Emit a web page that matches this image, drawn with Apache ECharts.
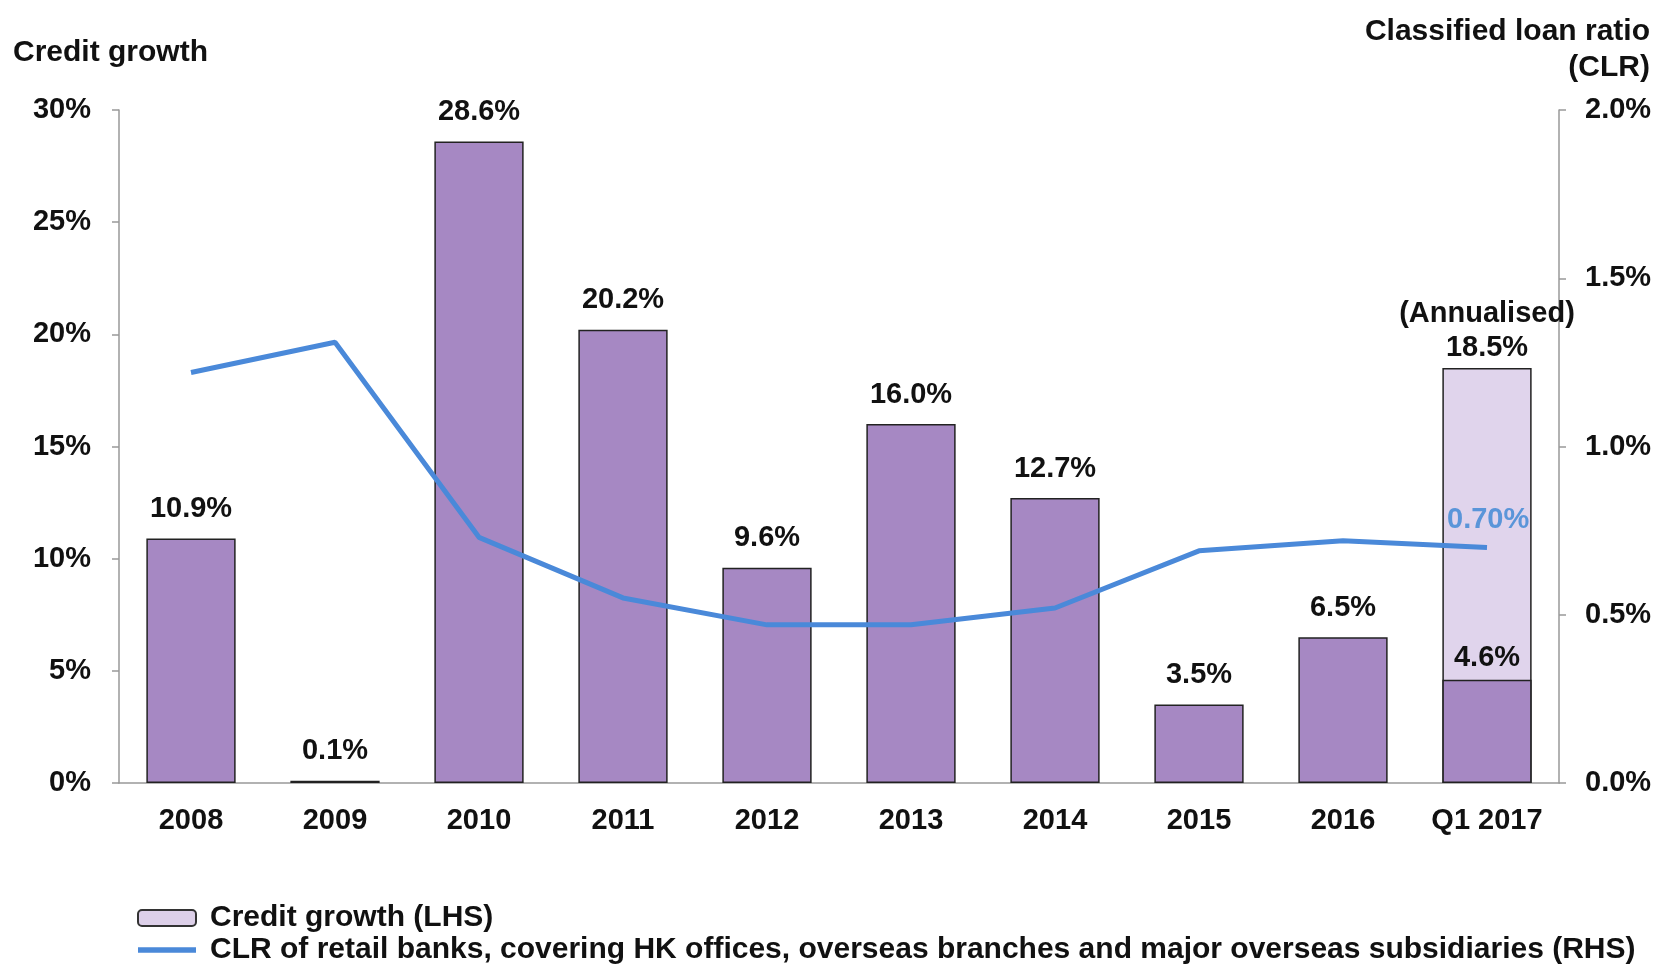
<!DOCTYPE html>
<html>
<head>
<meta charset="utf-8">
<script src="https://cdn.jsdelivr.net/npm/echarts@6/dist/echarts.min.js"></script>
<style>
html,body{margin:0;padding:0;background:#fff;}
#chart{width:1655px;height:971px;}
</style>
</head>
<body>
<div id="chart"></div>
<script>
const categories = ['2008','2009','2010','2011','2012','2013','2014','2015','2016','Q1 2017'];
const creditGrowth = [10.9, 0.1, 28.6, 20.2, 9.6, 16.0, 12.7, 3.5, 6.5, 4.6];
const annualised = ['-', '-', '-', '-', '-', '-', '-', '-', '-', 18.5];
const clr = [1.22, 1.31, 0.73, 0.55, 0.47, 0.47, 0.52, 0.69, 0.72, 0.70];
const leftTicks = {min: 0, max: 30, interval: 5};
const rightTicks = {min: 0, max: 2, interval: 0.5};

const FONT = "'Liberation Sans', Arial, sans-serif";
const chart = echarts.init(document.getElementById('chart'));
const labelBase = {fontFamily: FONT, fontWeight: 'bold', fontSize: 29, color: '#111'};
const lastIdx = creditGrowth.length - 1;
const creditData = creditGrowth.map((v, i) => i === lastIdx ? {value: v, label: {distance: 7}} : v);

chart.setOption({
  animation: false,
  grid: {left: 119, right: 96, top: 110, bottom: 188, containLabel: false},
  graphic: [
    {type: 'text', left: 13, top: 38, style: {text: 'Credit growth', fontFamily: FONT, fontWeight: 'bold', fontSize: 30, fill: '#111'}},
    {type: 'text', right: 5, top: 14, style: {text: 'Classified loan ratio\n(CLR)', textAlign: 'right', fontFamily: FONT, fontWeight: 'bold', fontSize: 30, lineHeight: 36, fill: '#111'}}
  ],
  legend: {
    orient: 'vertical', left: 137, top: 903, itemGap: 2, padding: 0,
    itemWidth: 58, itemHeight: 16,
    textStyle: {fontFamily: FONT, fontWeight: 'bold', fontSize: 30, color: '#111', padding: [0,0,0,9]},
    data: [
      {name: 'Credit growth (LHS)', icon: 'roundRect', itemStyle: {color: '#ddd0e9', borderColor: '#333', borderWidth: 2}},
      {name: 'CLR of retail banks, covering HK offices, overseas branches and major overseas subsidiaries (RHS)',
       icon: 'path://M0,0H58V5.5H0Z', itemStyle: {color: '#4a89d9'}}
    ]
  },
  xAxis: {
    type: 'category', data: categories,
    axisLine: {lineStyle: {color: '#999', width: 1.5}},
    axisTick: {alignWithLabel: true, length: 7, lineStyle: {color: '#999', width: 1.5}},
    axisLabel: Object.assign({margin: 23, interval: 0}, labelBase)
  },
  yAxis: [
    {
      type: 'value', min: leftTicks.min, max: leftTicks.max, interval: leftTicks.interval,
      splitLine: {show: false},
      axisLine: {show: true, lineStyle: {color: '#999', width: 1.5}},
      axisTick: {show: true, length: 7, lineStyle: {color: '#999', width: 1.5}},
      axisLabel: Object.assign({margin: 28, formatter: v => v + '%'}, labelBase)
    },
    {
      type: 'value', position: 'right', min: rightTicks.min, max: rightTicks.max, interval: rightTicks.interval,
      splitLine: {show: false},
      axisLine: {show: true, lineStyle: {color: '#999', width: 1.5}},
      axisTick: {show: true, length: 7, lineStyle: {color: '#999', width: 1.5}},
      axisLabel: Object.assign({margin: 26, formatter: v => v.toFixed(1) + '%'}, labelBase)
    }
  ],
  series: [
    {
      name: 'Annualised', type: 'bar', data: annualised, barWidth: '62%', barGap: '-100%',
      itemStyle: {color: '#e0d4ec', borderColor: '#222', borderWidth: 1.5},
      label: Object.assign({show: true, position: 'top', distance: 3, lineHeight: 34,
        formatter: p => '(Annualised)\n' + p.value.toFixed(1) + '%'}, labelBase)
    },
    {
      name: 'Credit growth (LHS)', type: 'bar', data: creditData, barWidth: '62%', barGap: '-100%',
      itemStyle: {color: '#a688c3', borderColor: '#222', borderWidth: 1.5},
      label: Object.assign({show: true, position: 'top', distance: 15,
        formatter: p => p.value.toFixed(1) + '%'}, labelBase),
      z: 3
    },
    {
      name: 'CLR of retail banks, covering HK offices, overseas branches and major overseas subsidiaries (RHS)',
      type: 'line', yAxisIndex: 1, data: clr, symbol: 'none', smooth: false,
      lineStyle: {color: '#4a89d9', width: 5}, itemStyle: {color: '#4a89d9'},
      z: 5,
      endLabel: {show: true, offset: [-48, -27], formatter: p => p.value.toFixed(2) + '%',
        fontFamily: FONT, fontWeight: 'bold', fontSize: 29, color: '#5a95d9'}
    }
  ]
});
</script>
</body>
</html>
